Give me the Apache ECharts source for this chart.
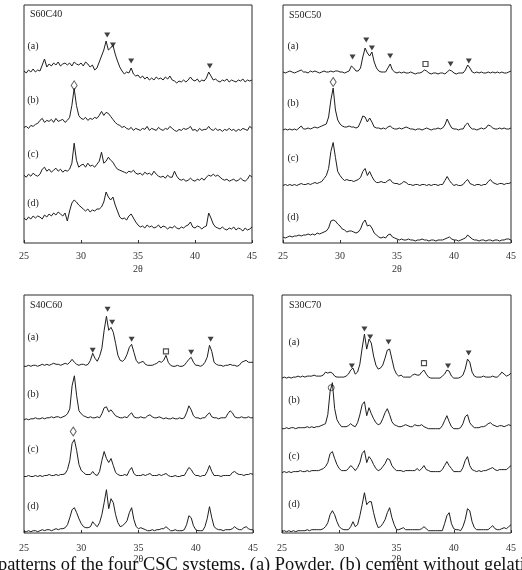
<!DOCTYPE html>
<html><head><meta charset="utf-8">
<script src="https://cdn.jsdelivr.net/npm/echarts@6/dist/echarts.min.js"></script>
<style>html,body{margin:0;padding:0;background:#fff;overflow:hidden}#c{width:522px;height:570px;}</style>
</head><body><div id="c"></div>
<script>
// ---------- DATA ----------
const twoTheta = [25,25.2,25.4,25.6,25.8,26,26.2,26.4,26.6,26.8,27,27.2,27.4,27.6,27.8,28,28.2,28.4,28.6,28.8,29,29.2,29.4,29.6,29.8,30,30.2,30.4,30.6,30.8,31,31.2,31.4,31.6,31.8,32,32.2,32.4,32.6,32.8,33,33.2,33.4,33.6,33.8,34,34.2,34.4,34.6,34.8,35,35.2,35.4,35.6,35.8,36,36.2,36.4,36.6,36.8,37,37.2,37.4,37.6,37.8,38,38.2,38.4,38.6,38.8,39,39.2,39.4,39.6,39.8,40,40.2,40.4,40.6,40.8,41,41.2,41.4,41.6,41.8,42,42.2,42.4,42.6,42.8,43,43.2,43.4,43.6,43.8,44,44.2,44.4,44.6,44.8,45];
const xTickValues = [25,30,35,40,45];
const axisTitle = '2θ';
const panelNames = ['S60C40','S50C50','S40C60','S30C70'];
const traceNames = ['(a)','(b)','(c)','(d)'];
const caption = 'patterns of the four CSC systems. (a) Powder, (b) cement without gelatin, (c) cement with gelatin';

// S60C40
const s60c40_a = [15,13,16,14,17,14,16,15,21,27, 19,22,20,23,21,24,20,22,23,21, 23,20,24,22,21,23,20,24,22,19, 21,16,18,24,30,36,45,36,38,41, 32,25,19,15,12,14,13,18,12,10, 11,8,10,7,9,6,8,6,9,7, 8,6,9,7,10,6,5,3,5,4, 6,4,6,9,6,5,7,4,6,5, 8,14,10,6,7,5,4,6,5,7, 4,6,5,4,6,5,7,4,6,5,6];
const s60c40_b = [8,9,7,10,9,11,12,15,17,13, 15,14,16,13,17,14,15,16,13,15, 18,30,47,30,20,17,16,18,15,17, 16,18,17,20,24,20,23,22,19,16, 13,11,10,8,9,7,6,8,5,7, 6,5,7,6,9,5,7,6,5,8, 6,5,7,6,9,7,5,4,6,5, 7,6,7,9,5,6,4,7,5,6, 6,9,6,5,7,5,6,4,6,5, 7,5,6,4,6,5,7,6,5,9,7];
const s60c40_c = [10,8,11,9,12,10,9,11,16,18, 14,16,13,15,17,14,16,13,15,14, 16,22,42,25,18,20,21,18,22,19, 20,18,21,24,33,22,24,28,25,23, 19,16,15,14,13,12,14,13,15,12, 11,12,10,13,11,12,10,14,11,9, 8,9,7,10,8,8,14,9,6,5, 6,4,5,7,5,4,6,5,7,5, 8,10,9,11,9,10,8,6,5,6, 4,5,6,4,5,7,5,4,6,10,8];
const s60c40_d = [17,15,18,16,19,17,19,18,16,20, 18,21,19,22,20,23,21,19,22,14, 24,32,35,33,30,28,26,24,26,23, 25,24,26,26,28,33,43,38,35,38, 30,24,18,16,17,15,19,21,17,13, 10,8,9,7,10,8,9,7,8,10, 7,9,8,6,8,7,9,7,6,8, 7,9,10,13,8,7,9,8,6,8, 9,22,17,11,8,7,6,8,6,5, 7,6,8,5,7,6,4,7,5,6,8];
// S50C50
const s50c50_a = [5,4,5,6,5,4,5,6,7,5, 5,4,6,5,6,5,4,5,6,5, 5,6,5,6,6,5,5,4,5,6, 11,9,6,6,9,20,29,24,21,25, 15,9,6,5,5,5,9,13,7,5, 4,5,4,5,4,4,5,4,3,4, 4,5,7,6,4,3,4,4,3,4, 4,3,5,7,6,4,3,4,4,4, 7,12,9,5,4,5,4,5,4,4, 5,4,5,4,5,4,5,4,4,5,6];
const s50c50_b = [4,5,4,5,4,5,4,6,8,5, 5,6,5,6,7,6,7,8,9,10, 17,34,46,24,14,10,8,7,7,8, 7,7,6,7,12,18,17,12,16,12, 7,6,6,5,6,5,7,8,6,5, 5,6,5,6,7,6,5,5,4,5, 5,4,5,6,5,4,5,5,6,5, 6,9,15,10,6,5,5,4,5,5, 9,11,7,5,5,4,5,6,5,6, 9,8,6,5,5,6,5,6,5,5,6];
const s50c50_c = [5,6,5,6,5,6,5,6,7,6, 6,7,6,7,8,7,8,9,12,15, 22,39,48,33,19,15,12,10,11,10, 10,9,10,11,13,19,22,15,19,14, 10,8,8,9,8,8,10,11,8,7, 7,6,7,9,8,6,6,5,6,6, 5,6,6,5,6,5,6,6,5,6, 6,10,14,10,7,5,6,5,5,6, 9,11,7,6,5,6,6,5,6,6, 9,11,8,7,6,7,7,6,7,7,8];
const s50c50_d = [10,9,10,11,10,11,11,12,11,12, 12,13,12,13,12,14,13,14,15,16, 19,26,27,26,23,21,18,17,15,16, 16,15,14,15,18,24,27,21,22,19, 14,12,10,9,10,9,12,13,10,9, 8,7,8,7,7,8,7,7,6,7, 7,8,7,7,6,7,7,6,7,7, 7,8,9,10,8,7,7,6,7,8, 9,12,10,8,7,7,6,7,7,6, 7,7,6,7,7,6,7,7,8,8,7];
// S40C60
const s40c60_a = [4,4,5,4,5,5,4,5,6,5, 6,5,6,7,6,6,5,6,7,6, 8,11,8,6,5,6,6,5,6,10, 17,12,9,14,22,40,54,40,43,38, 27,15,10,9,11,16,23,26,18,10, 7,8,9,6,5,5,5,6,7,9, 8,10,15,8,5,4,4,5,4,4, 5,8,11,13,8,5,5,4,5,8, 13,25,19,8,6,5,5,4,5,5, 6,5,5,4,5,8,9,10,8,8,8];
const s40c60_b = [3,4,3,4,4,5,4,4,5,4, 5,5,6,5,6,6,5,6,7,9, 14,37,47,27,12,9,7,6,5,6, 5,5,6,5,9,15,16,11,13,10, 7,6,5,5,6,5,8,10,6,5, 5,6,5,5,7,8,6,5,5,6, 5,4,5,4,4,5,4,4,5,4, 5,10,17,13,7,5,5,4,5,5, 8,10,6,5,5,4,5,5,5,9, 12,10,6,5,5,6,5,5,6,5,5];
const s40c60_c = [4,4,5,4,4,5,4,5,4,5, 5,6,5,5,6,5,6,6,7,11, 20,37,41,30,16,10,8,6,6,6, 9,6,5,9,20,29,22,18,22,15, 8,6,5,5,6,5,10,13,7,5, 5,5,6,5,6,7,5,5,5,6, 5,6,7,5,4,4,5,4,4,5, 5,9,13,11,7,5,5,4,5,5, 9,15,9,5,5,5,4,5,5,5, 5,8,9,7,6,6,5,6,6,7,6];
const s40c60_d = [3,3,4,3,4,4,3,4,5,4, 5,5,4,5,6,5,6,6,7,10, 17,25,27,22,16,11,8,7,7,8, 13,10,8,12,20,32,45,26,36,32, 20,12,8,9,11,14,22,27,15,8, 6,7,6,5,4,4,5,4,5,5, 6,6,8,6,4,4,5,4,4,4, 5,10,19,17,9,5,4,4,4,8, 16,28,17,8,6,5,5,4,5,5, 5,6,8,6,5,5,7,8,6,5,5];
// S30C70
const s30c70_a = [3,4,3,4,3,4,4,5,4,5, 4,5,5,5,6,5,5,5,6,9, 8,9,8,5,4,4,4,4,5,7, 11,13,7,9,17,33,47,32,42,38, 25,16,12,13,16,23,31,32,22,12, 7,5,6,4,4,4,4,6,7,6, 6,9,11,7,4,3,3,3,3,3, 5,7,11,10,5,3,3,3,4,6, 12,22,19,9,5,4,4,4,5,4, 4,4,5,4,4,6,9,7,5,6,8];
const s30c70_b = [3,3,4,3,4,4,3,4,4,4, 4,5,4,5,4,5,5,6,7,8, 17,40,49,23,12,8,5,5,5,6, 8,6,5,9,17,27,30,16,24,18, 13,9,7,8,13,19,23,17,10,7, 6,5,5,6,7,6,5,5,7,6, 6,7,5,4,3,3,3,3,3,3, 6,11,16,10,5,3,3,3,4,8, 15,17,9,6,4,4,4,5,5,6, 8,9,7,6,5,6,6,5,6,7,6];
const s30c70_c = [3,4,3,4,3,4,4,4,5,4, 4,5,4,5,5,5,5,6,7,9, 13,22,24,17,11,7,5,5,5,7, 10,8,5,8,13,22,25,13,19,16, 11,7,5,6,9,12,17,16,10,7, 5,5,5,4,5,5,5,5,5,7, 5,7,10,6,5,4,4,4,4,4, 6,10,14,10,7,4,4,4,4,8, 15,19,10,6,5,4,5,4,5,5, 6,7,8,6,5,6,6,6,6,8,10];
const s30c70_d = [3,4,3,4,3,4,3,4,4,4, 4,5,4,5,5,5,5,5,6,8, 12,20,24,20,13,8,6,5,5,5, 8,13,8,10,19,30,42,30,33,33, 22,13,7,8,11,15,22,27,17,10, 5,5,6,7,5,5,5,5,5,5, 5,6,8,6,4,4,4,4,4,4, 4,11,19,22,11,6,5,5,4,8, 15,26,24,13,7,5,5,5,5,5, 5,7,9,6,5,5,6,7,6,8,10];

// peak markers [2θ, intensity above trace]
const s60c40_tri = [[32.3,51],[32.8,41],[34.4,25],[41.3,20]];
const s60c40_dia = [[29.4,50]];
const s50c50_tri = [[31.1,20],[32.3,37],[32.8,29],[34.4,21],[39.7,13],[41.3,16]];
const s50c50_sq = [[37.5,13]];
const s50c50_dia = [[29.4,52]];
const s40c60_tri = [[31.0,20],[32.3,61],[32.7,48],[34.4,31],[39.6,18],[41.3,31]];
const s40c60_sq = [[37.4,19]];
const s40c60_dia = [[29.3,49]];
const s30c70_tri = [[31.1,15],[32.2,52],[32.7,44],[34.3,39],[39.5,15],[41.3,28]];
const s30c70_sq = [[37.4,18]];
const s30c70_circ = [[29.3,44]];

// ---------- LAYOUT ----------
const FONT = '"Liberation Serif", "Times New Roman", serif';
const panels = [
  {grid:{left:24,top:5,width:228,height:238}, traces:[s60c40_a,s60c40_b,s60c40_c,s60c40_d], offs:[157,107.6,57.8,8],
   tri:s60c40_tri, triOn:0, sq:null, open:s60c40_dia, openOn:1, openSym:'diamond',
   title:[30,15], lx:33, ly:[46,100,154,203], lblMargin:8, nameGap:21},
  {grid:{left:283,top:5,width:228,height:238}, traces:[s50c50_a,s50c50_b,s50c50_c,s50c50_d], offs:[166,109,52.5,-4],
   tri:s50c50_tri, triOn:0, sq:s50c50_sq, open:s50c50_dia, openOn:1, openSym:'diamond',
   title:[289,16], lx:293, ly:[46,103,158,217], lblMargin:8, nameGap:21},
  {grid:{left:24,top:295,width:229,height:238}, traces:[s40c60_a,s40c60_b,s40c60_c,s40c60_d], offs:[162.7,110.2,52.5,-1.7],
   tri:s40c60_tri, triOn:0, sq:s40c60_sq, open:s40c60_dia, openOn:2, openSym:'diamond',
   title:[30,306], lx:33, ly:[337,394,449,506], lblMargin:10, nameGap:13},
  {grid:{left:282,top:295,width:229,height:238}, traces:[s30c70_a,s30c70_b,s30c70_c,s30c70_d], offs:[151.9,101.3,57.4,-1.7],
   tri:s30c70_tri, triOn:0, sq:s30c70_sq, open:s30c70_circ, openOn:1, openSym:'circle',
   title:[289,306], lx:294, ly:[342,400,456,504], lblMargin:10, nameGap:13}
];

const grids=[], xAxes=[], yAxes=[], series=[], graphics=[];
panels.forEach((p,k)=>{
  grids.push(Object.assign({show:true,borderColor:'#2a2a2a',borderWidth:1,backgroundColor:'transparent'},p.grid));
  xAxes.push({type:'value',gridIndex:k,min:xTickValues[0],max:xTickValues[xTickValues.length-1],interval:5,
    axisLine:{show:false},splitLine:{show:false},
    axisTick:{show:true,inside:true,length:3,lineStyle:{color:'#333'}},
    axisLabel:{fontFamily:FONT,fontSize:10,color:'#333',margin:p.lblMargin},
    name:axisTitle,nameLocation:'middle',nameGap:p.nameGap,nameTextStyle:{fontFamily:FONT,fontSize:10,color:'#333'}});
  yAxes.push({type:'value',gridIndex:k,min:0,max:238,show:false});
  p.traces.forEach((vals,t)=>{
    series.push({type:'line',xAxisIndex:k,yAxisIndex:k,symbol:'none',silent:true,animation:false,
      lineStyle:{color:'#1e1e1e',width:1},
      data:twoTheta.map((a,i)=>[a,vals[i]+p.offs[t]])});
  });
  series.push({type:'scatter',xAxisIndex:k,yAxisIndex:k,symbol:'triangle',symbolRotate:180,symbolSize:[6,5],
    itemStyle:{color:'#111'},animation:false,silent:true,
    data:p.tri.map(d=>[d[0],d[1]+p.offs[p.triOn]])});
  if(p.sq) series.push({type:'scatter',xAxisIndex:k,yAxisIndex:k,symbol:'rect',symbolSize:5,
    itemStyle:{color:'#fff',borderColor:'#222',borderWidth:1.2},animation:false,silent:true,
    data:p.sq.map(d=>[d[0],d[1]+p.offs[0]])});
  series.push({type:'scatter',xAxisIndex:k,yAxisIndex:k,symbol:p.openSym,symbolSize:p.openSym==='circle'?[6,6]:[6,9],
    itemStyle:{color:'#fff',borderColor:'#333',borderWidth:1},animation:false,silent:true,
    data:p.open.map(d=>[d[0],d[1]+p.offs[p.openOn]])});
  graphics.push({type:'text',left:p.title[0],top:p.title[1]-6,style:{text:panelNames[k],font:'10px '+FONT,fill:'#222'}});
  traceNames.forEach((n,t)=>{
    graphics.push({type:'text',x:p.lx,y:p.ly[t],style:{text:n,font:'10px '+FONT,fill:'#222',align:'center',verticalAlign:'middle'}});
  });
});
graphics.push({type:'text',x:-2,y:574,z:10,style:{text:caption,font:'18.4px '+FONT,fill:'#111',align:'left',verticalAlign:'bottom'}});

const chart = echarts.init(document.getElementById('c'),null,{renderer:'canvas'});
chart.setOption({animation:false,backgroundColor:'#fff',grid:grids,xAxis:xAxes,yAxis:yAxes,series:series,graphic:graphics});
</script></body></html>
